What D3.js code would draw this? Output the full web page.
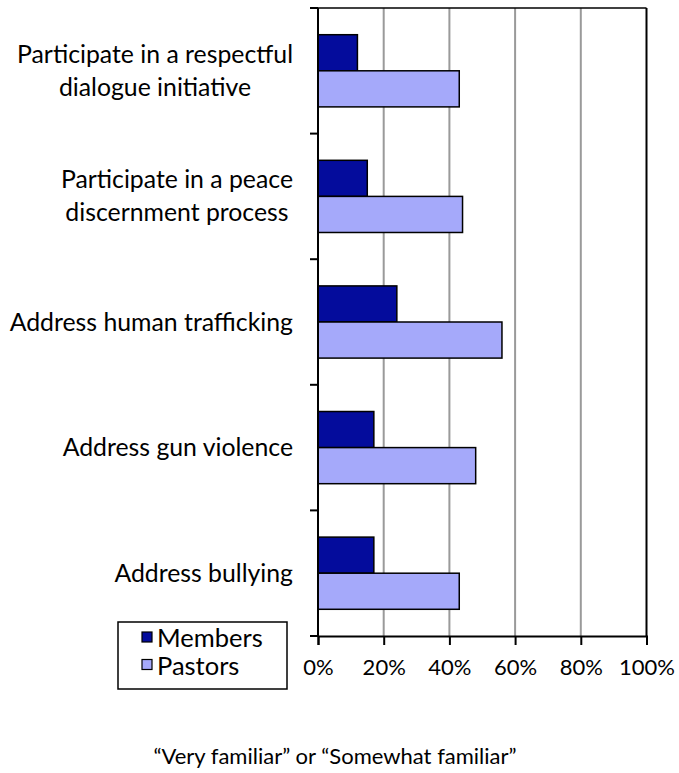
<!DOCTYPE html>
<html>
<head>
<meta charset="utf-8">
<script src="https://cdn.jsdelivr.net/npm/d3@7/dist/d3.min.js"></script>
<style>
  html, body { margin: 0; padding: 0; background: #fff; }
  svg text { font-family: Lato, "Open Sans", sans-serif; fill: #000; }
</style>
</head>
<body>
<svg id="chart" width="679" height="773"></svg>
<script>
// données
const categories = [
  "Participate in a respectful dialogue initiative",
  "Participate in a peace discernment process",
  "Address human trafficking",
  "Address gun violence",
  "Address bullying"
];
const categoryLines = [
  ["Participate in a respectful", "dialogue initiative"],
  ["Participate in a peace", "discernment process"],
  ["Address human trafficking"],
  ["Address gun violence"],
  ["Address bullying"]
];
const seriesNames = ["Members", "Pastors"];
const members = [12, 15, 24, 17, 17];
const pastors = [43, 44, 56, 48, 43];
const xTicks = [0, 20, 40, 60, 80, 100];
const xTitle = "\u201cVery familiar\u201d or \u201cSomewhat familiar\u201d";

const colors = { Members: "#040c9c", Pastors: "#a5a9fa" };

const svg = d3.select("#chart");
const pLeft = 318, pRight = 646.5, pTop = 8, pBottom = 636;

const x = d3.scaleLinear().domain([0, 100]).range([pLeft, pRight]);
const y = d3.scaleBand().domain(categories).range([pTop, pBottom]);
const ySub = d3.scaleBand().domain(seriesNames).range([0, y.bandwidth()]).paddingOuter(0.74);

// grille
svg.append("g").selectAll("line")
  .data(xTicks.filter(d => d > 0 && d < 100))
  .enter().append("line")
  .attr("x1", d => x(d)).attr("x2", d => x(d))
  .attr("y1", pTop).attr("y2", pBottom)
  .attr("stroke", "#9a9a9a").attr("stroke-width", 2);

// cadre haut / droite
svg.append("line").attr("x1", pLeft - 8).attr("x2", pRight).attr("y1", pTop).attr("y2", pTop)
  .attr("stroke", "#000").attr("stroke-width", 1.5);
svg.append("line").attr("x1", pRight).attr("x2", pRight).attr("y1", pTop).attr("y2", pBottom)
  .attr("stroke", "#000").attr("stroke-width", 2);

// barres
const rows = categories.map((c, i) => ({ cat: c, Members: members[i], Pastors: pastors[i] }));
const groups = svg.append("g").selectAll("g")
  .data(rows)
  .enter().append("g")
  .attr("transform", d => `translate(0,${y(d.cat)})`);

groups.selectAll("rect")
  .data(d => seriesNames.map(s => ({ s, v: d[s] })))
  .enter().append("rect")
  .attr("x", x(0))
  .attr("y", d => ySub(d.s))
  .attr("width", d => x(d.v) - x(0))
  .attr("height", ySub.bandwidth())
  .attr("fill", d => colors[d.s])
  .attr("stroke", "#000")
  .attr("stroke-width", 1.5);

// axe X
const xAxis = svg.append("g")
  .attr("transform", `translate(0,${pBottom})`)
  .call(d3.axisBottom(x).tickValues(xTicks).tickFormat(d => d + "%").tickSize(9).tickPadding(14));
xAxis.select(".domain").attr("stroke", "#000").attr("stroke-width", 2);
xAxis.selectAll(".tick line").attr("stroke", "#000").attr("stroke-width", 2);
xAxis.selectAll(".tick text").attr("font-size", 22).attr("font-family", "Lato, sans-serif");

// axe Y (graduations aux limites des bandes)
const yEdges = categories.map(c => y(c)).concat([pBottom]);
svg.append("line").attr("x1", pLeft).attr("x2", pLeft).attr("y1", pTop).attr("y2", pBottom)
  .attr("stroke", "#000").attr("stroke-width", 2);
svg.append("g").selectAll("line")
  .data(yEdges)
  .enter().append("line")
  .attr("x1", pLeft - 8).attr("x2", pLeft)
  .attr("y1", d => d).attr("y2", d => d)
  .attr("stroke", "#000").attr("stroke-width", 2);

// libellés des catégories : bloc aligné à droite, lignes centrées
const labelRight = 293, lineH = 33;
categories.forEach((c, i) => {
  const lines = categoryLines[i];
  const cy = y(c) + y.bandwidth() / 2;
  const g = svg.append("g");
  const texts = lines.map((t, j) => g.append("text")
    .attr("font-size", 24.8)
    .attr("y", cy + 8.5 + (j - (lines.length - 1) / 2) * lineH)
    .text(t));
  const widths = texts.map(t => t.node().getComputedTextLength());
  const w = d3.max(widths);
  texts.forEach((t, j) => t.attr("x", labelRight - w + (w - widths[j]) / 2));
});

// légende
const leg = svg.append("g");
leg.append("rect").attr("x", 118).attr("y", 622).attr("width", 169).attr("height", 67)
  .attr("fill", "#fff").attr("stroke", "#000").attr("stroke-width", 1.5);
seriesNames.forEach((s, i) => {
  leg.append("rect").attr("x", 142).attr("y", 632 + i * 27.5).attr("width", 10).attr("height", 10)
    .attr("fill", colors[s]).attr("stroke", "#000").attr("stroke-width", 1.2);
  leg.append("text").attr("x", 157).attr("y", 647 + i * 28).attr("font-size", 25.5).text(s);
});

// titre de l'axe X
svg.append("text")
  .attr("x", 335).attr("y", 764)
  .attr("text-anchor", "middle")
  .attr("font-size", 22)
  .text(xTitle);
</script>
</body>
</html>
